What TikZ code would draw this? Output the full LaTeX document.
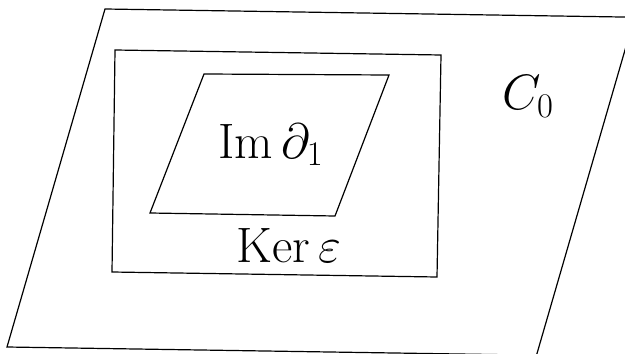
\documentclass[tikz,border=0pt]{standalone}
\usepackage{amsmath,amssymb}
\usetikzlibrary{positioning,calc}

\begin{document}
\begin{tikzpicture}[x=0.5pt,y=-0.5pt, line width=0.6pt,
  every node/.style={align=center},
  lbl/.style={anchor=base,inner sep=0pt,font=\fontsize{23}{27}\selectfont}]
\useasboundingbox (0,0) rectangle (625,353);
\begin{scope}
\clip (0,0) rectangle (625,353);
% outer parallelogram C_0
\coordinate (o1) at (105,9);
\coordinate (o2) at (634.5,17.2);
\coordinate (o3) at (536.5,355.2);
\coordinate (o4) at (7,347);
\draw (o1) -- (o2) -- (o3) -- (o4) -- cycle;
\end{scope}
% kernel box
\coordinate (k1) at (115,50);
\coordinate (k2) at (441,55);
\coordinate (k3) at (437,277);
\coordinate (k4) at (112,272);
\draw (k1) -- (k2) -- (k3) -- (k4) -- cycle;
% image parallelogram
\coordinate (i1) at (204,74);
\coordinate (i2) at (389,75);
\coordinate (i3) at (335,216);
\coordinate (i4) at (150,213);
\draw (i1) -- (i2) -- (i3) -- (i4) -- cycle;

\node[lbl] (Im) at (271,158) {$\operatorname{Im}\partial_1$};
\node[lbl] (Ker) at (289,262) {$\operatorname{Ker}\varepsilon$};
\node[lbl] (C) at (528,110) {$C_0$};
\end{tikzpicture}
\end{document}
